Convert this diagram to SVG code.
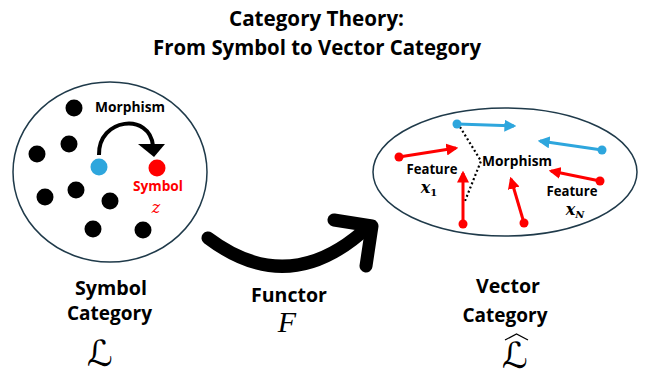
<svg xmlns="http://www.w3.org/2000/svg" width="646" height="376" viewBox="0 0 646 376">
<style>
.t{font-family:"Open Sans","Liberation Sans",sans-serif;font-weight:bold;fill:#000;text-anchor:middle}
.m{font-family:"DejaVu Serif","Liberation Serif",serif;font-style:italic;text-anchor:middle}
.L{font-family:"DejaVu Sans","Noto Sans",serif;font-style:normal;text-anchor:middle}
.ell{fill:#fff;stroke:#1f3a4a;stroke-width:1.5}
.blk{fill:#000}
.red{fill:#ff0000}
.blu{fill:#2ea6dd}
.ra{stroke:#ff0000;stroke-width:3;fill:none;marker-end:url(#mr)}
.ba{stroke:#2ea6dd;stroke-width:3;fill:none;marker-end:url(#mb)}
</style>
<defs>
<marker id="mr" viewBox="0 0 10 10" refX="8" refY="5" markerWidth="4" markerHeight="4" orient="auto" markerUnits="strokeWidth"><path d="M0,0L10,5L0,10z" fill="#ff0000"/></marker>
<marker id="mb" viewBox="0 0 10 10" refX="8" refY="5" markerWidth="4" markerHeight="4" orient="auto" markerUnits="strokeWidth"><path d="M0,0L10,5L0,10z" fill="#2ea6dd"/></marker>
</defs>
<g id="title">
<text class="t" x="316.5" y="26" font-size="20.5" textLength="175" lengthAdjust="spacingAndGlyphs">Category Theory:</text>
<text class="t" x="317" y="55" font-size="20.5" textLength="328" lengthAdjust="spacingAndGlyphs">From Symbol to Vector Category</text>
</g>
<g id="symbol-category">
<ellipse class="ell" cx="110" cy="172" rx="97" ry="90"/>
<circle class="blk" cx="74" cy="108" r="8.5"/>
<circle class="blk" cx="69" cy="144" r="8.5"/>
<circle class="blk" cx="37" cy="154" r="8.5"/>
<circle class="blk" cx="45" cy="197" r="8.5"/>
<circle class="blk" cx="76" cy="190" r="8.5"/>
<circle class="blk" cx="110" cy="201" r="8.5"/>
<circle class="blk" cx="93" cy="229" r="8.5"/>
<circle class="blk" cx="143" cy="230" r="8.5"/>
<circle class="blu" cx="99" cy="167" r="8.5"/>
<circle class="red" cx="157" cy="168" r="8.5"/>
<path d="M99,155 C98,118 150,112 153,146" fill="none" stroke="#000" stroke-width="4"/>
<path d="M138,144 L165,144 L154,157 Z" fill="#000"/>
<text class="t" x="130" y="112" font-size="14" textLength="70" lengthAdjust="spacingAndGlyphs">Morphism</text>
<text class="t" x="158" y="191" font-size="14" textLength="50" lengthAdjust="spacingAndGlyphs" style="fill:#ff0000">Symbol</text>
<text class="m" x="156" y="213" font-size="16" fill="#ff0000">z</text>
<text class="t" x="111" y="295" font-size="19.5" textLength="72" lengthAdjust="spacingAndGlyphs">Symbol</text>
<text class="t" x="109.5" y="320" font-size="19.5" textLength="85" lengthAdjust="spacingAndGlyphs">Category</text>
<text class="L" x="100" y="366" font-size="36">ℒ</text>
</g>
<g id="vector-category">
<ellipse class="ell" cx="505" cy="172" rx="132" ry="64"/>
<path d="M460,127 L481,161 L465,201" fill="none" stroke="#000" stroke-width="2.2" stroke-dasharray="2,2.5"/>
<circle class="blu" cx="457" cy="124" r="4.5"/>
<line class="ba" x1="457" y1="124" x2="514" y2="126"/>
<circle class="blu" cx="602" cy="150" r="4.5"/>
<line class="ba" x1="602" y1="150" x2="540" y2="141"/>
<circle class="red" cx="399" cy="157" r="4.5"/>
<line class="ra" x1="399" y1="157" x2="456" y2="148"/>
<circle class="red" cx="463" cy="224" r="4.5"/>
<line class="ra" x1="463" y1="224" x2="463" y2="173"/>
<circle class="red" cx="524" cy="223" r="4.5"/>
<line class="ra" x1="524" y1="223" x2="511" y2="179"/>
<circle class="red" cx="600" cy="181" r="4.5"/>
<line class="ra" x1="600" y1="181" x2="551" y2="171"/>
<text class="t" x="517" y="166" font-size="14" textLength="70" lengthAdjust="spacingAndGlyphs">Morphism</text>
<text class="t" x="432" y="174" font-size="13.5" textLength="51" lengthAdjust="spacingAndGlyphs">Feature</text>
<text class="m" x="429" y="193" font-size="16" font-weight="bold">x<tspan font-size="10" font-style="normal" dy="3">1</tspan></text>
<text class="t" x="572" y="196" font-size="13.5" textLength="51" lengthAdjust="spacingAndGlyphs">Feature</text>
<text class="m" x="575" y="215" font-size="16" font-weight="bold">x<tspan font-size="10" dy="3">N</tspan></text>
<text class="t" x="508" y="293" font-size="19.5" textLength="64" lengthAdjust="spacingAndGlyphs">Vector</text>
<text class="t" x="505" y="322" font-size="19.5" textLength="85" lengthAdjust="spacingAndGlyphs">Category</text>
<text class="L" x="515" y="368" font-size="36">ℒ</text>
<path d="M505,340 L516.5,334 L528,340" fill="none" stroke="#000" stroke-width="1.3"/>
</g>
<g id="connectors">
<path d="M208,238 Q290,300 369,226" fill="none" stroke="#000" stroke-width="13" stroke-linecap="round"/>
<polyline points="334,220 372,226 366,266" fill="none" stroke="#000" stroke-width="13" stroke-linecap="round" stroke-linejoin="round"/>
<text class="t" x="289" y="302" font-size="19.5" textLength="76" lengthAdjust="spacingAndGlyphs">Functor</text>
<text x="287" y="332" font-size="30" font-family="'Liberation Serif',serif" font-style="italic" text-anchor="middle">F</text>
</g>
</svg>
